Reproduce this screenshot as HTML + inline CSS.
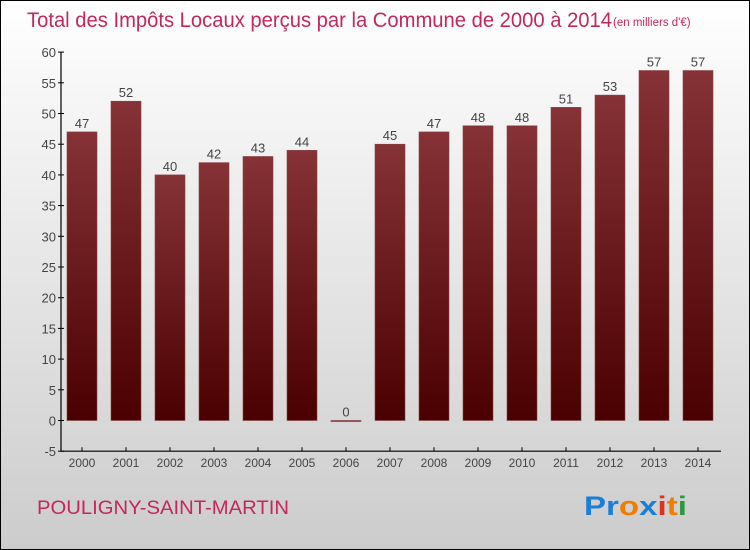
<!DOCTYPE html>
<html><head><meta charset="utf-8"><style>
body{margin:0}
#c{position:relative;width:748px;height:548px;border:1px solid #000;background:linear-gradient(#fff,#ccc);font-family:"Liberation Sans",sans-serif;overflow:hidden}
</style></head><body>
<div id="c">
<svg width="748" height="548" id="svg">
<defs><linearGradient id="bg" x1="0" y1="0" x2="0" y2="1"><stop offset="0" stop-color="#863236"/><stop offset="1" stop-color="#4a0000"/></linearGradient></defs>
<text x="26" y="26" font-size="21" fill="#c2285a" textLength="585" lengthAdjust="spacingAndGlyphs">Total des Impôts Locaux perçus par la Commune de 2000 à 2014</text>
<text x="612" y="25" font-size="11.5" fill="#c2285a">(en milliers d'€)</text>
<text x="36" y="513" font-size="19" fill="#c2285a" textLength="252" lengthAdjust="spacingAndGlyphs">POULIGNY-SAINT-MARTIN</text>
<text x="583" y="514" font-size="27" font-weight="bold" textLength="103" lengthAdjust="spacingAndGlyphs"><tspan fill="#1a7fd6">Pr</tspan><tspan fill="#f07d00">o</tspan><tspan fill="#1a7fd6">x</tspan><tspan fill="#e03020">i</tspan><tspan fill="#f07d00">t</tspan><tspan fill="#2a9a40">i</tspan></text>
<g id="plot"></g>
</svg></div>
<script>
const years=["2000","2001","2002","2003","2004","2005","2006","2007","2008","2009","2010","2011","2012","2013","2014"];
const values=[47,52,40,42,43,44,0,45,47,48,48,51,53,57,57];
const yTicks=[-5,0,5,10,15,20,25,30,35,40,45,50,55,60];
const NS="http://www.w3.org/2000/svg";
const g=document.getElementById('plot');
const y=v=>419.5-(v)*6.14;
const x=i=>81+i*44;
function el(t,a){const e=document.createElementNS(NS,t);for(const k in a)e.setAttribute(k,a[k]);g.appendChild(e);return e;}
let ax=el('path',{d:`M60 ${y(60)}V${y(-5)}H720`,stroke:'#000',fill:'none','stroke-width':1.2});


yTicks.forEach(v=>{
 let t=el('line',{x1:57,x2:63,y1:y(v),y2:y(v),stroke:'#000'});
 
 
 let l=el('text',{x:55,y:y(v)+5,'text-anchor':'end','font-size':13,fill:'#444'});l.textContent=v;
 
 
});
years.forEach((yr,i)=>{
 let t=el('line',{x1:x(i),x2:x(i),y1:y(-5)-4,y2:y(-5),stroke:'#000'});
 
 
 let l=el('text',{x:x(i),y:466,'text-anchor':'middle','font-size':12,fill:'#444'});l.textContent=yr;
 
 
 const v=values[i];
 let b=el('rect',{x:x(i)-15,y:y(Math.max(v,0)),width:30,height:Math.max(Math.abs(v)*6.14,1),fill:'url(#bg)',stroke:'#8a4448','stroke-width':0.6});
 
 
 let vl=el('text',{x:x(i),y:y(v)-4,'text-anchor':'middle','font-size':13,fill:'#444'});vl.textContent=v;
 
 
});
</script>
</body></html>
